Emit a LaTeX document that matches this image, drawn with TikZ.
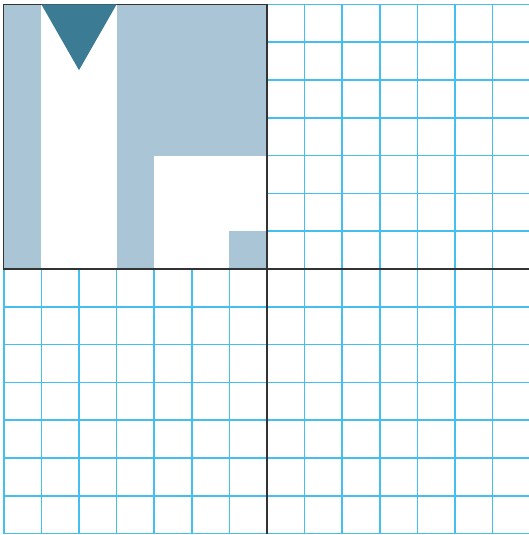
\documentclass[tikz,border=0pt]{standalone}
\definecolor{gridc}{HTML}{45BEF0}
\definecolor{lb}{HTML}{A9C5D6}
\definecolor{tri}{HTML}{3B7B94}
\definecolor{axis}{HTML}{333333}
\tikzset{gridline/.style={draw=gridc,line width=1.5pt},
  axisline/.style={draw=axis,line width=1.2pt}}
\begin{document}
\begin{tikzpicture}[x=37.6pt,y=-37.8pt]
\useasboundingbox (-0.101,-0.1164) rectangle (13.968,14.037);
\fill[white] (-0.101,-0.1164) rectangle (13.968,14.037);
\foreach \i in {0,...,14}{
  \draw[gridline] (\i,0) -- (\i,14);
  \draw[gridline] (0,\i) -- (14,\i);
}
\fill[lb] (0,0) rectangle (7,7);
\fill[white] (1,0) rectangle (3,7);
\fill[white] (4,4) rectangle (7,7);
\fill[lb] (6,6) rectangle (7,7);
\draw[axisline] (0,0) rectangle (7,7);
\fill[tri] (1,0) -- (3,0) -- (2,1.74) -- cycle;
\draw[axisline] (7,0) -- (7,14);
\draw[axisline] (0,7) -- (14,7);
\end{tikzpicture}
\end{document}
